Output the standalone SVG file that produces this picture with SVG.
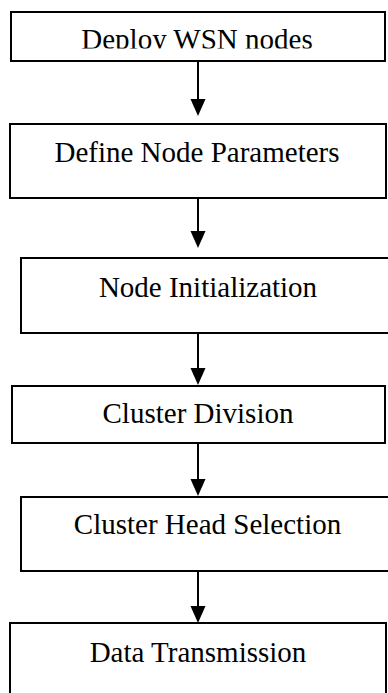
<svg xmlns="http://www.w3.org/2000/svg" width="388" height="693" viewBox="0 0 388 693">
<style>
.box{fill:#fff;stroke:#000;stroke-width:2}
.lbl{font-family:"Liberation Serif","Times New Roman",serif;font-size:29px;fill:#000;text-anchor:middle}
.con{stroke:#000;stroke-width:2;fill:none}
.head{fill:#000}
</style>
<defs>
<clipPath id="c1"><rect x="11" y="12" width="374" height="36.5"/></clipPath>
</defs>
<rect width="388" height="693" fill="#fff"/>
<g id="n1">
<rect class="box" x="11" y="12" width="374" height="49"/>
<text class="lbl" x="197" y="49" clip-path="url(#c1)">Deploy WSN nodes</text>
</g>
<g id="n2">
<rect class="box" x="10" y="124" width="376" height="74"/>
<text class="lbl" x="197" y="162">Define Node Parameters</text>
</g>
<g id="n3">
<rect class="box" x="21" y="258" width="372" height="75"/>
<text class="lbl" x="208" y="297">Node Initialization</text>
</g>
<g id="n4">
<rect class="box" x="12" y="386" width="373" height="57"/>
<text class="lbl" x="198" y="423">Cluster Division</text>
</g>
<g id="n5">
<rect class="box" x="21" y="497" width="372" height="74"/>
<text class="lbl" x="207.5" y="534">Cluster Head Selection</text>
</g>
<g id="n6">
<rect class="box" x="10" y="623" width="376" height="80"/>
<text class="lbl" x="198" y="662">Data Transmission</text>
</g>
<g id="connectors">
<line class="con" x1="198" y1="61" x2="198" y2="101"/>
<polygon class="head" points="190.5,99 205.5,99 198,116"/>
<line class="con" x1="198" y1="198" x2="198" y2="233"/>
<polygon class="head" points="190.5,231 205.5,231 198,248"/>
<line class="con" x1="198" y1="333" x2="198" y2="370"/>
<polygon class="head" points="190.5,368 205.5,368 198,385"/>
<line class="con" x1="198" y1="443" x2="198" y2="481"/>
<polygon class="head" points="190.5,479 205.5,479 198,496"/>
<line class="con" x1="198" y1="571" x2="198" y2="608"/>
<polygon class="head" points="190.5,606 205.5,606 198,623"/>
</g>
</svg>
